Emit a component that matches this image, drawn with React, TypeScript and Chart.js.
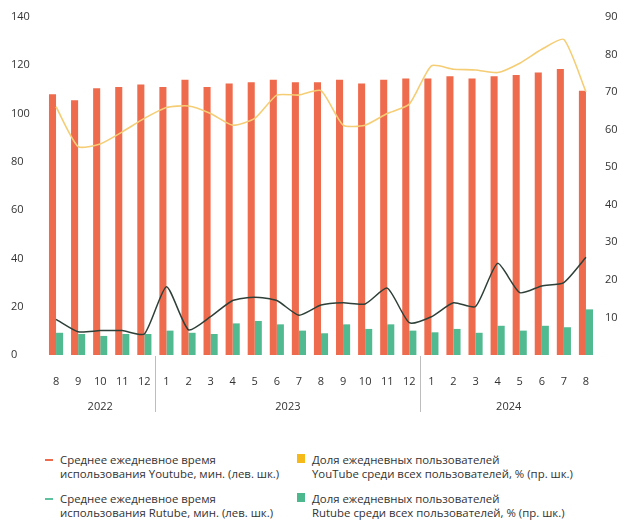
import React, { useEffect, useRef } from 'react';
import { Chart, registerables } from 'chart.js';

Chart.register(...registerables);

const months = ['8', '9', '10', '11', '12', '1', '2', '3', '4', '5', '6', '7', '8', '9', '10', '11', '12', '1', '2', '3', '4', '5', '6', '7', '8'];
const yearLabels = ['2022', '2023', '2024'];
const yearSpans = [5, 12, 8];

// Average daily time, minutes (left scale)
const youtubeTime = [108, 105.5, 110.5, 111, 112, 111, 114, 111, 112.5, 113, 114, 113, 113, 114, 112.5, 114, 114.5, 114.5, 115.5, 114.5, 115.5, 116, 117, 118.5, 109.5];
const rutubeTime = [9.2, 8.7, 7.9, 8.7, 8.7, 10.1, 9.2, 8.7, 13.1, 14.1, 12.7, 10.1, 9.0, 12.7, 10.8, 12.7, 10.1, 9.4, 10.8, 9.2, 12.1, 10.1, 12.1, 11.5, 18.9];
// Share of daily users, % (right scale)
const youtubeShare = [66.1, 55.5, 56.2, 59.4, 63.0, 65.9, 66.3, 64.3, 61.2, 63.0, 69.2, 69.2, 70.4, 61.2, 61.2, 64.3, 66.8, 77.0, 76.1, 75.9, 75.2, 77.7, 81.4, 84.0, 70.1];
const rutubeShare = [9.5, 6.2, 6.5, 6.5, 5.6, 18.2, 6.7, 10.2, 14.5, 15.4, 14.5, 10.6, 13.3, 13.9, 13.6, 17.8, 8.6, 10.2, 13.9, 12.9, 24.4, 16.6, 18.4, 19.3, 26.0];

const legendItems = [
  { lines: ['Среднее ежедневное время', 'использования Youtube, мин. (лев. шк.)'], color: '#EE6B4D', kind: 'dash' },
  { lines: ['Доля ежедневных пользователей', 'YouTube среди всех пользователей, % (пр. шк.)'], color: '#F5BA1A', kind: 'square' },
  { lines: ['Среднее ежедневное время', 'использования Rutube, мин. (лев. шк.)'], color: '#5FC29E', kind: 'dash' },
  { lines: ['Доля ежедневных пользователей', 'Rutube среди всех пользователей, % (пр. шк.)'], color: '#4DB88E', kind: 'square' },
];

const FONT = '"Open Sans", sans-serif';
const TEXT = '#333333';

const yearPlugin = {
  id: 'yearGroups',
  afterDraw(chart: any) {
    const xs = chart.scales.x;
    const ctx = chart.ctx;
    const half = (xs.getPixelForValue(1) - xs.getPixelForValue(0)) / 2;
    ctx.save();
    ctx.font = `11px ${FONT}`;
    ctx.fillStyle = TEXT;
    ctx.textAlign = 'center';
    ctx.textBaseline = 'middle';
    let start = 0;
    yearSpans.forEach((n, i) => {
      const left = xs.getPixelForValue(start) - half;
      const right = xs.getPixelForValue(start + n - 1) + half;
      ctx.fillText(yearLabels[i], (left + right) / 2, xs.top + 52);
      if (i > 0) {
        ctx.strokeStyle = '#BDBDBD';
        ctx.lineWidth = 1;
        ctx.beginPath();
        const px = Math.round(left) + 0.5;
        ctx.moveTo(px, xs.top + 1);
        ctx.lineTo(px, xs.top + 57);
        ctx.stroke();
      }
      start += n;
    });
    ctx.restore();
  },
};

export default function App() {
  const ref = useRef<HTMLCanvasElement | null>(null);

  useEffect(() => {
    if (!ref.current) return;
    const tickFont = { family: FONT, size: 11 };
    const chart = new Chart(ref.current, {
      type: 'bar',
      data: {
        labels: months,
        datasets: [
          {
            type: 'line',
            label: 'YouTube share',
            data: youtubeShare,
            yAxisID: 'y1',
            borderColor: '#F5CD75',
            borderWidth: 1.6,
            pointRadius: 0,
            tension: 0.2,
            order: 0,
          },
          {
            type: 'line',
            label: 'Rutube share',
            data: rutubeShare,
            yAxisID: 'y1',
            borderColor: '#2E4038',
            borderWidth: 1.5,
            pointRadius: 0,
            tension: 0.2,
            order: 0,
          },
          {
            type: 'bar',
            label: 'YouTube time',
            data: youtubeTime,
            yAxisID: 'y',
            backgroundColor: '#EE6B4D',
            categoryPercentage: 0.64,
            barPercentage: 1.0,
            order: 1,
          },
          {
            type: 'bar',
            label: 'Rutube time',
            data: rutubeTime,
            yAxisID: 'y',
            backgroundColor: '#52BA90',
            categoryPercentage: 0.64,
            barPercentage: 1.0,
            order: 1,
          },
        ] as any,
      },
      options: {
        animation: false,
        responsive: false,
        maintainAspectRatio: false,
        layout: { padding: { left: 11, right: 0, top: 17, bottom: 0 } },
        plugins: { legend: { display: false }, tooltip: { enabled: false } },
        scales: {
          x: {
            grid: { display: false, drawTicks: false },
            border: { display: false },
            ticks: { font: tickFont, color: TEXT, padding: 20, autoSkip: false, maxRotation: 0 },
            afterFit(s: any) { s.height = 65; },
          },
          y: {
            position: 'left',
            min: 0,
            max: 140,
            grid: { display: false, drawTicks: false },
            border: { display: false },
            ticks: { stepSize: 20, crossAlign: 'far', font: tickFont, color: TEXT },
            afterFit(s: any) { s.width = 34; },
          },
          y1: {
            position: 'right',
            min: 0,
            max: 90,
            grid: { display: false, drawTicks: false },
            border: { display: false },
            ticks: {
              stepSize: 10,
              padding: 8,
              font: tickFont,
              color: TEXT,
              callback: (v: any) => (v === 0 ? '' : String(v)),
            },
            afterFit(s: any) { s.width = 27; },
          },
        } as any,
      },
      plugins: [yearPlugin],
    });
    return () => chart.destroy();
  }, []);

  const colX = [45, 297];
  const rowY = [453, 492];

  return (
    <div style={{ position: 'absolute', left: 0, top: 0, width: 624, height: 525, background: '#fff', overflow: 'hidden' }}>
      <canvas ref={ref} width={624} height={420} style={{ display: 'block', width: 624, height: 420 }} />
      {legendItems.map((it, i) => {
        const x = colX[i % 2];
        const y = rowY[Math.floor(i / 2)];
        return (
          <div key={i} style={{ position: 'absolute', left: x, top: y, fontFamily: FONT, fontSize: 11.4, lineHeight: '14px', color: TEXT }}>
            {it.kind === 'dash' ? (
              <span style={{ position: 'absolute', left: 0, top: 6, width: 8, height: 2, background: it.color }} />
            ) : (
              <span style={{ position: 'absolute', left: 0, top: 1, width: 8, height: 9, background: it.color }} />
            )}
            <div style={{ marginLeft: 15, whiteSpace: 'nowrap' }}>
              {it.lines.map((l, j) => (
                <div key={j}>{l}</div>
              ))}
            </div>
          </div>
        );
      })}
    </div>
  );
}
